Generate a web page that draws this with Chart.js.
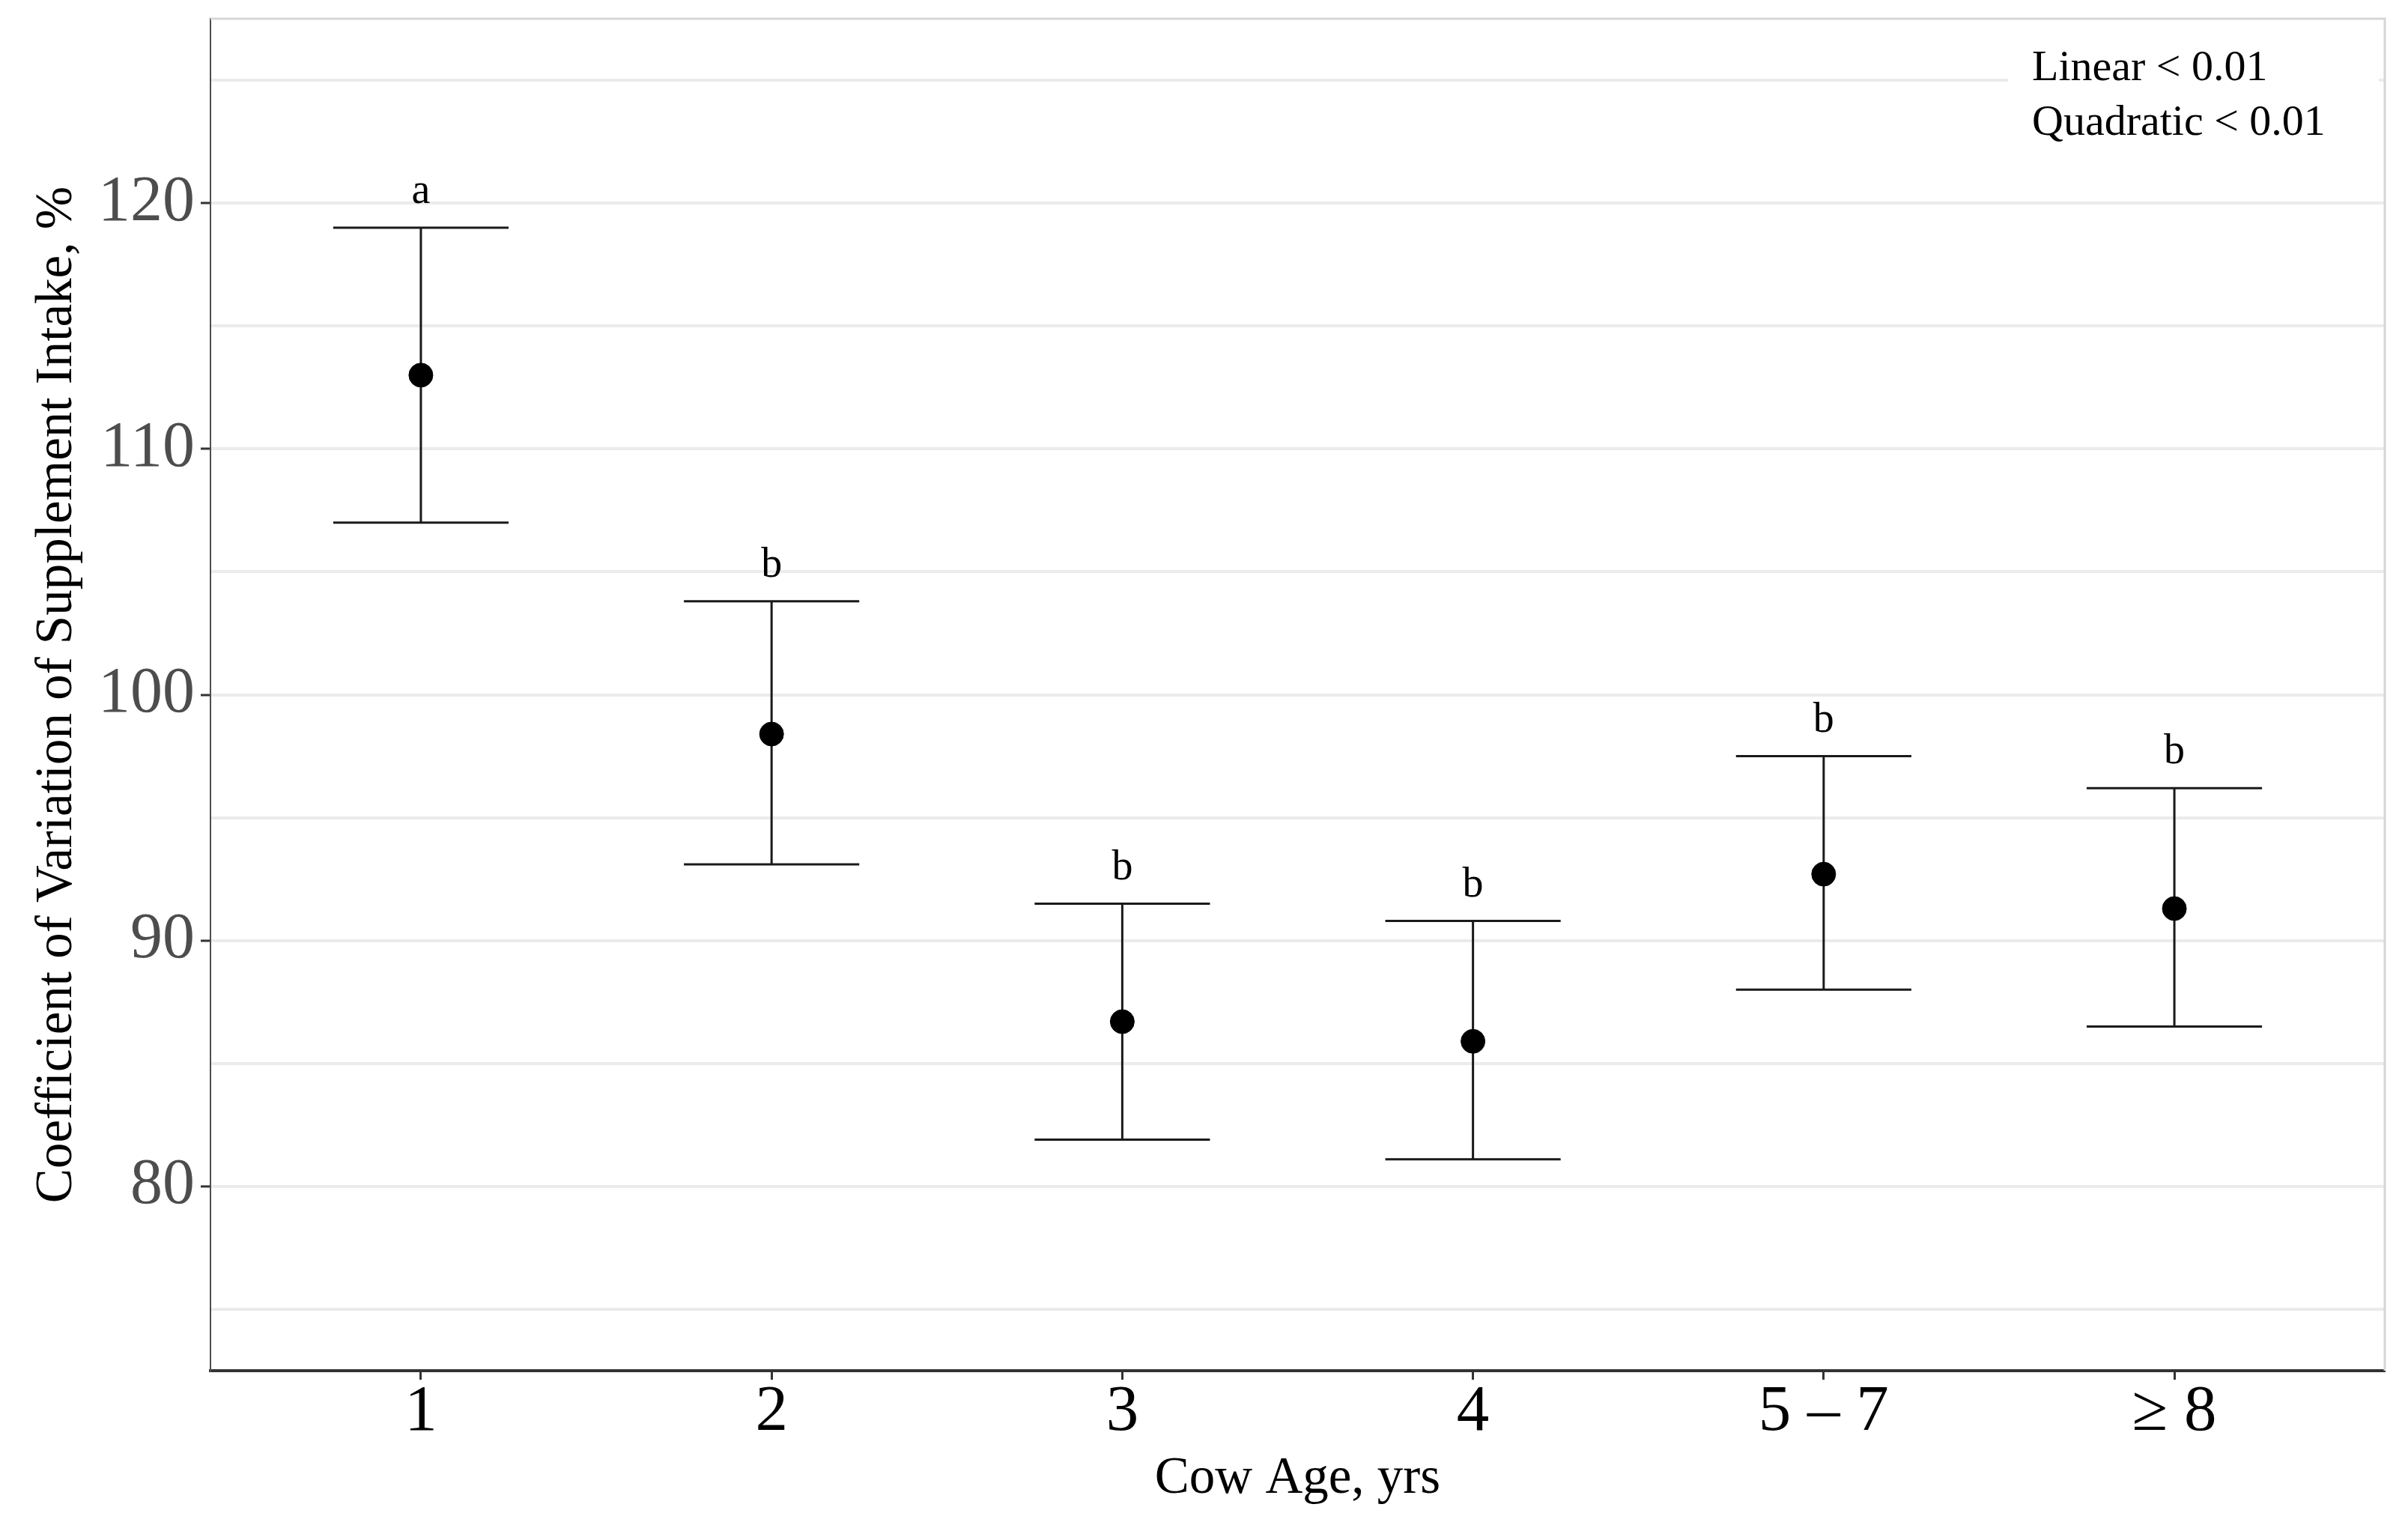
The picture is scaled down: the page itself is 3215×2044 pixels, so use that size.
<!DOCTYPE html>
<html>
<head>
<meta charset="utf-8">
<script src="https://cdn.jsdelivr.net/npm/chart.js@4.4.1/dist/chart.umd.min.js"></script>
<style>
  html, body { margin: 0; padding: 0; background: #fff; overflow: hidden; }
  #wrap { width: 3215px; height: 2044px; position: relative; }
</style>
</head>
<body>
<div id="wrap"><canvas id="graficoCV"></canvas></div>
<script>
// datos
const ageLabels = ["1", "2", "3", "4", "5 \u2013 7", "\u2265 8"];
const cvMeans = [113.0, 98.4, 86.7, 85.9, 92.7, 91.3];
const cvUpper = [119.0, 103.8, 91.5, 90.8, 97.5, 96.2];
const cvLower = [107.0, 93.1, 81.9, 81.1, 88.0, 86.5];
const sigLetters = ["a", "b", "b", "b", "b", "b"];
const yGridValues = [75, 80, 85, 90, 95, 100, 105, 110, 115, 120, 125];
const yTickLabels = [80, 90, 100, 110, 120];
const statLines = ["Linear < 0.01", "Quadratic < 0.01"];

const SERIF = "'Liberation Serif', 'Times New Roman', serif";

// barras de error + caja de texto
const errorBars = {
    id: "errorBars",
    beforeDatasetsDraw(chart) {
        const { ctx, chartArea, scales: { x, y } } = chart;

        // borde superior y derecho en gris claro
        ctx.save();
        ctx.strokeStyle = "#d6d6d6";
        ctx.lineWidth = 3;
        ctx.beginPath();
        ctx.moveTo(chartArea.left, chartArea.top);
        ctx.lineTo(chartArea.right, chartArea.top);
        ctx.lineTo(chartArea.right, chartArea.bottom);
        ctx.stroke();

        // fondo blanco de la leyenda de contrastes
        ctx.fillStyle = "#fff";
        ctx.fillRect(chartArea.right - 503, chartArea.top + 15, 495, 175);

        ctx.strokeStyle = "#1a1a1a";
        ctx.lineWidth = 3;
        cvMeans.forEach((m, i) => {
            const cx = x.getPixelForValue(i);
            const left = x.getPixelForValue(i - 0.25);
            const right = x.getPixelForValue(i + 0.25);
            const top = y.getPixelForValue(cvUpper[i]);
            const bot = y.getPixelForValue(cvLower[i]);
            ctx.beginPath();
            ctx.moveTo(cx, top); ctx.lineTo(cx, bot);
            ctx.moveTo(left, top); ctx.lineTo(right, top);
            ctx.moveTo(left, bot); ctx.lineTo(right, bot);
            ctx.stroke();
        });
        ctx.restore();
    },
    afterDatasetsDraw(chart) {
        const { ctx, chartArea, scales: { x, y } } = chart;
        ctx.save();
        ctx.fillStyle = "#000";
        ctx.textAlign = "center";
        ctx.textBaseline = "alphabetic";
        ctx.font = "56px " + SERIF;
        sigLetters.forEach((l, i) => {
            ctx.fillText(l, x.getPixelForValue(i), y.getPixelForValue(cvUpper[i] + 1));
        });

        ctx.textAlign = "left";
        ctx.font = "58px " + SERIF;
        statLines.forEach((t, i) => {
            ctx.fillText(t, chartArea.right - 471, chartArea.top + 82 + i * 73);
        });
        ctx.restore();
    }
};

const ctx = document.getElementById("graficoCV");

new Chart(ctx, {
    type: "scatter",
    data: {
        datasets: [{
            label: "CV",
            data: cvMeans.map((v, i) => ({ x: i, y: v })),
            backgroundColor: "#000",
            borderColor: "#000",
            pointRadius: 16,
            pointHoverRadius: 16
        }]
    },
    options: {
        responsive: true,
        maintainAspectRatio: false,
        animation: false,
        layout: { padding: { top: 25, right: 31, left: 0, bottom: 0 } },
        plugins: {
            legend: { display: false },
            tooltip: { enabled: false }
        },
        scales: {
            x: {
                type: "linear",
                min: -0.6,
                max: 5.6,
                afterBuildTicks: s => { s.ticks = ageLabels.map((l, i) => ({ value: i })); },
                afterFit: s => { s.height = 214; s.paddingLeft = 0; s.paddingRight = 0; },
                border: { display: true, color: "#333", width: 4 },
                grid: {
                    drawOnChartArea: false,
                    drawTicks: true,
                    tickLength: 12,
                    tickColor: "#333",
                    tickWidth: 3
                },
                ticks: {
                    autoSkip: false,
                    maxRotation: 0,
                    padding: -8,
                    color: "#000",
                    font: { family: SERIF, size: 87 },
                    callback: v => ageLabels[v] ?? ""
                },
                title: {
                    display: true,
                    text: "Cow Age, yrs",
                    color: "#000",
                    font: { family: SERIF, size: 69 },
                    padding: { top: 0, bottom: 28 }
                }
            },
            y: {
                min: 72.5,
                max: 127.5,
                afterBuildTicks: s => { s.ticks = yGridValues.map(v => ({ value: v })); },
                afterFit: s => { s.width = 281; s.paddingTop = 0; s.paddingBottom = 0; },
                border: { display: true, color: "#4d4d4d", width: 2 },
                grid: {
                    color: "#ebebeb",
                    lineWidth: 4,
                    tickLength: 13,
                    tickWidth: 3,
                    tickColor: c => (c.tick && yTickLabels.includes(c.tick.value)) ? "#333" : "rgba(0,0,0,0)"
                },
                ticks: {
                    autoSkip: false,
                    padding: 8,
                    color: "#4d4d4d",
                    font: { family: SERIF, size: 86 },
                    callback: v => yTickLabels.includes(v) ? String(v) : ""
                },
                title: {
                    display: true,
                    text: "Coefficient of Variation of Supplement Intake, %",
                    color: "#000",
                    font: { family: SERIF, size: 69 },
                    padding: { top: 35, bottom: 0 }
                }
            }
        }
    },
    plugins: [errorBars]
});
</script>
</body>
</html>
